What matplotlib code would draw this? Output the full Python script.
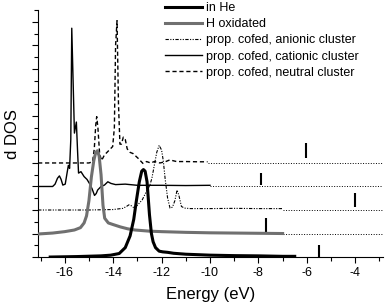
import matplotlib
matplotlib.use("Agg")
import matplotlib.pyplot as plt
from matplotlib.ticker import MultipleLocator, NullFormatter

plt.rcParams['font.family'] = ['Liberation Sans', 'DejaVu Sans']

# in He (offset 0)
he_x = [-16.6, -15.5, -14.5, -14.1, -13.75, -13.5, -13.3, -13.15, -13.04, -12.92, -12.82,
        -12.75, -12.68, -12.6, -12.5, -12.42, -12.35, -12.25, -12.1, -11.95, -11.75, -11.5,
        -11.0, -10.5, -10.0, -9.0, -8.0, -7.0, -6.5]
he_y = [0.0, 0.02, 0.05, 0.08, 0.15, 0.4, 0.9, 1.6, 2.4, 3.2, 3.65, 3.72, 3.65, 3.2, 1.8,
        1.0, 0.65, 0.4, 0.25, 0.22, 0.2, 0.16, 0.12, 0.1, 0.08, 0.06, 0.05, 0.03, 0.03]

# H oxidated (offset 1)
hox_x = [-17.1, -16.5, -16.0, -15.6, -15.35, -15.2, -15.1, -15.0, -14.9, -14.8, -14.72,
         -14.65, -14.58, -14.5, -14.42, -14.35, -14.2, -14.0, -13.7, -13.4, -13.1, -12.5,
         -12.0, -11.0, -10.0, -9.0, -8.0, -7.0]
hox_y = [0.98, 1.02, 1.08, 1.15, 1.25, 1.45, 1.75, 2.4, 3.4, 4.1, 4.45, 4.52, 4.3, 3.5,
         2.2, 1.65, 1.45, 1.38, 1.28, 1.2, 1.15, 1.1, 1.08, 1.05, 1.03, 1.02, 1.01, 1.0]

# prop. cofed, anionic cluster (offset 2)
an_x = [-17.1, -15.0, -14.0, -13.6, -13.45, -13.35, -13.25, -13.15, -13.0, -12.8, -12.62,
        -12.5, -12.4, -12.3, -12.2, -12.1, -12.0, -11.93, -11.85, -11.75, -11.65, -11.55,
        -11.45, -11.36, -11.28, -11.18, -11.05, -10.8, -10.0, -9.0, -8.0, -7.0]
an_y = [2.0, 2.0, 2.02, 2.07, 2.15, 2.22, 2.18, 2.1, 2.2, 2.43, 2.8, 3.0, 3.35, 3.9, 4.45,
        4.75, 4.55, 4.1, 3.3, 2.5, 2.08, 2.12, 2.4, 2.85, 2.6, 2.15, 2.08, 2.06, 2.06, 2.07,
        2.06, 2.06]

# prop. cofed, cationic cluster (offset 3)
cat_x = [-17.1, -16.5, -16.4, -16.3, -16.22, -16.15, -16.08, -15.98, -15.9, -15.85, -15.8,
         -15.75, -15.71, -15.6, -15.52, -15.47, -15.43, -15.33, -15.2, -15.08, -14.98,
         -14.87, -14.77, -14.7, -14.64, -14.5, -14.36, -14.22, -14.09, -13.9, -13.5, -13.0,
         -12.0, -11.0, -10.0]
cat_y = [3.0, 3.0, 3.1, 3.35, 3.45, 3.3, 3.06, 3.1, 3.6, 3.9, 3.77, 5.0, 9.73, 5.27, 5.74,
         4.5, 3.57, 3.63, 3.42, 3.3, 3.13, 2.9, 2.62, 2.7, 2.85, 3.0, 3.06, 3.2, 3.13, 3.08,
         3.1, 3.05, 3.05, 3.04, 3.05]

# prop. cofed, neutral cluster (offset 4)
neu_x = [-17.1, -15.5, -15.0, -14.85, -14.78, -14.72, -14.68, -14.63, -14.56, -14.48,
         -14.36, -14.16, -14.02, -13.95, -13.9, -13.84, -13.78, -13.72, -13.66, -13.58,
         -13.5, -13.42, -13.3, -13.18, -12.97, -12.77, -12.62, -12.45, -12.3, -12.07,
         -11.85, -11.66, -11.38, -11.0, -10.5, -10.1]
neu_y = [4.0, 4.0, 4.0, 4.05, 4.6, 5.6, 5.97, 5.5, 4.4, 4.1, 4.34, 4.55, 4.7, 5.5, 9.0,
         10.05, 6.5, 4.8, 4.8, 5.1, 5.0, 4.6, 4.45, 4.4, 4.2, 3.98, 4.06, 4.0, 4.06, 4.0,
         4.05, 4.13, 4.06, 4.06, 4.05, 4.05]

# level markers (x, bottom, top) and dotted baselines (start, level)
mark_x = [-5.5, -7.7, -4.0, -7.9, -6.05]
mark_lo = [0.0, 1.0, 2.13, 3.06, 4.21]
mark_hi = [0.5, 1.65, 2.72, 3.57, 4.85]
base_start = [-6.5, -7.0, -7.0, -10.0, -10.1]
base_level = [0, 1, 2, 3, 4]

fig = plt.figure(figsize=(3.85, 3.06), dpi=100)
ax = fig.add_axes([0.099, 0.16, 0.896, 0.807])

ax.plot(he_x, he_y, color='black', lw=2.2, label='in He', zorder=5)
ax.plot(hox_x, hox_y, color='#707070', lw=2.2, label='H oxidated', zorder=4)
ax.plot(an_x, an_y, color='black', lw=0.8, dashes=(3, 1.3, 1, 1.3, 1, 1.3),
        label='prop. cofed, anionic cluster')
ax.plot(cat_x, cat_y, color='black', lw=1.0, label='prop. cofed, cationic cluster')
ax.plot(neu_x, neu_y, color='black', lw=1.0, dashes=(3, 2),
        label='prop. cofed, neutral cluster')

for s, lv in zip(base_start, base_level):
    ax.plot([s, -2.85], [lv, lv], color='black', lw=0.7, ls=':')
ax.vlines(mark_x, mark_lo, mark_hi, color='black', lw=1.5)

ax.set_xlim(-17.1, -2.85)
ax.set_ylim(0, 10.5)
ax.xaxis.set_major_locator(MultipleLocator(2))
ax.xaxis.set_minor_locator(MultipleLocator(1))
ax.yaxis.set_major_locator(MultipleLocator(1))
ax.yaxis.set_minor_locator(MultipleLocator(0.5))
ax.yaxis.set_major_formatter(NullFormatter())
ax.tick_params(axis='both', which='both', direction='out', width=0.8)
ax.tick_params(axis='both', which='major', length=4, labelsize=9, pad=3)
ax.tick_params(axis='both', which='minor', length=3)
ax.set_xticks(range(-16, -3, 2))
ax.set_xticklabels([str(v) for v in range(-16, -3, 2)])

for side in ['top', 'right']:
    ax.spines[side].set_visible(False)
ax.spines['left'].set_linewidth(0.8)
ax.spines['bottom'].set_linewidth(0.8)

ax.set_xlabel('Energy (eV)', fontsize=12, labelpad=6)
ax.set_ylabel('d DOS', fontsize=12, labelpad=6)

ax.legend(loc='upper left', bbox_to_anchor=(164 / 385, 1.0 - 1 / 306),
          bbox_transform=fig.transFigure, frameon=False, fontsize=9, handlelength=2.9,
          handletextpad=0.35, labelspacing=0.33, borderpad=0.1, borderaxespad=0)

fig.savefig('out.png', dpi=100)
